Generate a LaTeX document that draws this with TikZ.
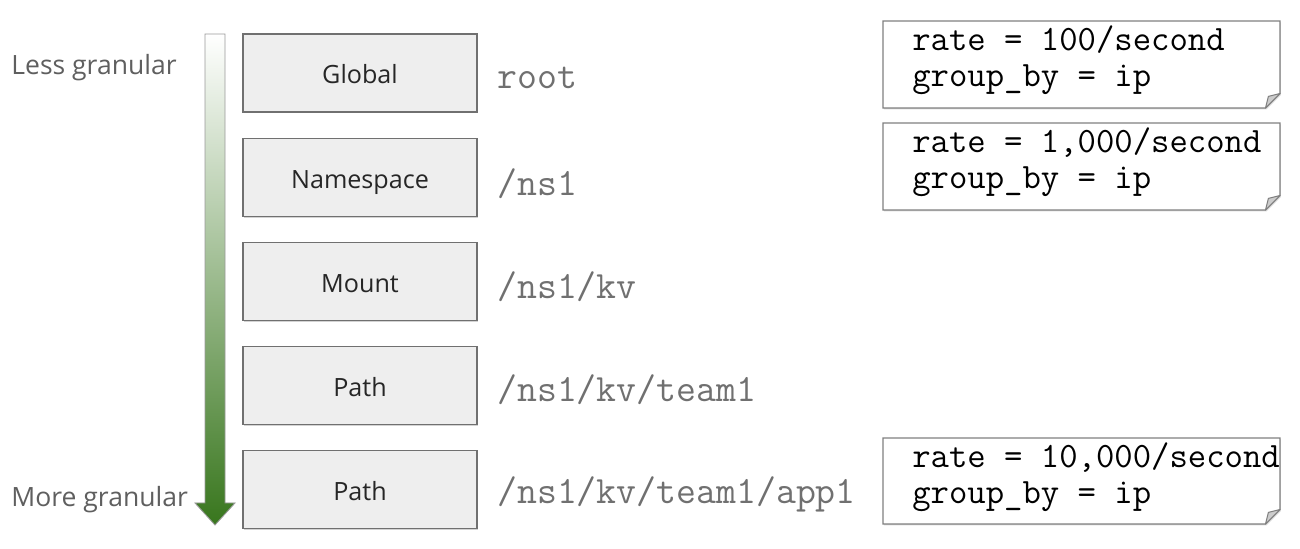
\documentclass[tikz,border=0pt]{standalone}
\usepackage{fontspec}
\setmainfont{Open Sans}
\usetikzlibrary{shadows}

\definecolor{boxfill}{HTML}{EEEEEE}
\definecolor{boxline}{HTML}{707070}
\definecolor{arrowgreen}{HTML}{38761D}
\definecolor{pathgray}{HTML}{707070}
\definecolor{sidegray}{HTML}{5F5F5F}

\tikzset{
	tierbox/.style={draw=boxline, fill=boxfill, line width=0.8pt,
		minimum width=4.68cm, minimum height=1.56cm, inner sep=0pt,
		text=black!85, font=\fontsize{14.3}{16}\selectfont,
		text height=12.2pt, text depth=0pt,
		drop shadow={shadow xshift=0.5pt, shadow yshift=-0.8pt, opacity=0.35}},
	pathlabel/.style={anchor=base west, inner sep=0pt, text=pathgray,
		font=\ttfamily\fontsize{22}{23}\selectfont},
	sidelabel/.style={anchor=base west, inner sep=0pt, text=sidegray,
		font=\fontsize{15.1}{16}\selectfont},
	notetext/.style={anchor=base west, inner sep=0pt, text width=7.4cm,
		align=left, font=\ttfamily\fontsize{20.3}{20.4}\selectfont,
		execute at begin node={\spaceskip=0pt\xspaceskip=0pt\relax}},
	notebox/.style={draw=black!50, fill=white, line width=0.8pt,
		drop shadow={shadow xshift=0.5pt, shadow yshift=-0.8pt, opacity=0.3}},
	foldtip/.style={draw=black!50, fill=black!20, line width=0.6pt, line join=round}
}

\begin{document}
\begin{tikzpicture}
	\def \fold {0.29}
	\def \notel {17.66}
	\def \noter {25.6}

	\useasboundingbox (0,0) rectangle (26,10.98);

	% granularity arrow
	\shade[top color=white, bottom color=arrowgreen, draw=black!40, line width=0.5pt]
		(4.1,10.3) -- (4.5,10.3) -- (4.5,0.92) -- (4.7,0.92) -- (4.3,0.48)
		-- (3.9,0.92) -- (4.1,0.92) -- cycle;

	\node[sidelabel] (less) at (0.22,9.48) {Less granular};
	\node[sidelabel] (more) at (0.22,0.84) {More granular};

	% levels
	\node[tierbox] (global)    at (7.2,9.52) {Global};
	\node[tierbox] (namespace) at (7.2,7.43) {Namespace};
	\node[tierbox] (mount)     at (7.2,5.35) {Mount};
	\node[tierbox] (path)      at (7.2,3.27) {Path};
	\node[tierbox] (apppath)   at (7.2,1.19) {Path};

	\node[pathlabel] (rootlbl)  at (9.94,9.2) {root};
	\node[pathlabel] (nslbl)    at (9.94,7.06) {/ns1};
	\node[pathlabel] (kvlbl)    at (9.94,5.0) {/ns1/kv};
	\node[pathlabel] (teamlbl)  at (9.94,2.94) {/ns1/kv/team1};
	\node[pathlabel] (applbl)   at (9.94,0.9) {/ns1/kv/team1/app1};

	% notes with a folded corner
	\foreach \ytop/\ybot in {10.56/8.82, 8.52/6.78, 2.22/0.5} {
		\filldraw[notebox] (\notel,\ytop) -- (\noter,\ytop) -- (\noter,{\ybot+\fold})
			-- ({\noter-\fold},\ybot) -- (\notel,\ybot) -- cycle;
		\filldraw[foldtip] (\noter,{\ybot+\fold}) -- ({\noter-\fold},\ybot)
			-- ({\noter-0.8*\fold},{\ybot+0.8*\fold}) -- cycle;
	}

	\node[notetext] (globalrate) at (18.24,9.96)
		{rate = 100/second\\group\_by = ip};
	\node[notetext] (nsrate)     at (18.24,7.92)
		{rate = 1,000/second\\group\_by = ip};
	\node[notetext] (apprate)    at (18.24,1.62)
		{rate = 10,000/second\\group\_by = ip};
\end{tikzpicture}
\end{document}
